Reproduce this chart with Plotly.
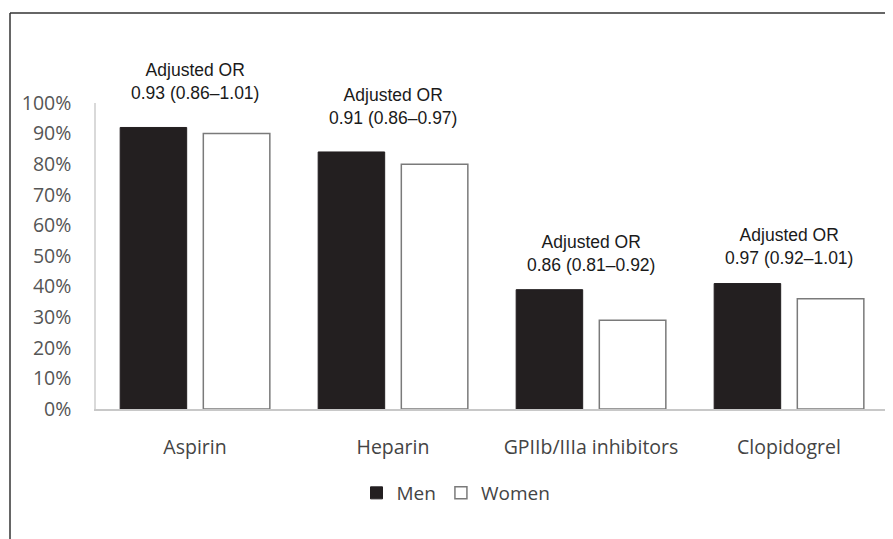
import plotly.graph_objects as go

categories = ["Aspirin", "Heparin", "GPIIb/IIIa inhibitors", "Clopidogrel"]
men = [92, 84, 39, 41]
women = [90, 80, 29, 36]
or_text = [
    "Adjusted OR<br>0.93 (0.86\u20131.01)",
    "Adjusted OR<br>0.91 (0.86\u20130.97)",
    "Adjusted OR<br>0.86 (0.81\u20130.92)",
    "Adjusted OR<br>0.97 (0.92\u20131.01)",
]
y_ticks = list(range(0, 101, 10))
y_tick_labels = [f"{v}%" for v in y_ticks]

# page body has an 8px margin; work in screen pixels and convert
OFF = 8
W, H = 893 - OFF, 539 - OFF
ML, MR, MT, MB = 96 - OFF, 5, 103 - OFF, 130
pw = W - ML - MR
ph = H - MT - MB

def px_x(p):
    return (p - OFF - ML) / pw

def px_y(p):
    return (H - MB - (p - OFF)) / ph

fig = go.Figure()
fig.add_trace(go.Bar(
    x=categories, y=men, name="Men",
    marker=dict(color="#231f20", line=dict(color="#231f20", width=1)),
))
fig.add_trace(go.Bar(
    x=categories, y=women, name="Women",
    marker=dict(color="#ffffff", line=dict(color="#7a7a7a", width=1.5)),
))

shifts = [22, 22, 13, 14]
for c, m, w, t, s in zip(categories, men, women, or_text, shifts):
    fig.add_annotation(
        x=c, y=max(m, w), text=t, showarrow=False,
        yanchor="bottom", yshift=s,
        font=dict(family="Liberation Sans, Arial", size=17.5, color="#1a1a1a"),
        align="center",
    )

# frame lines (left and top)
fig.add_shape(type="line", xref="paper", yref="paper",
              x0=px_x(10), x1=px_x(10), y0=px_y(13), y1=px_y(560),
              line=dict(color="#333333", width=1.5))
fig.add_shape(type="line", xref="paper", yref="paper",
              x0=px_x(10), x1=px_x(910), y0=px_y(13), y1=px_y(13),
              line=dict(color="#333333", width=1.5))

fig.update_layout(
    width=W, height=H,
    margin=dict(l=ML, r=MR, t=MT, b=MB),
    paper_bgcolor="white", plot_bgcolor="white",
    barmode="group", bargap=0.16, bargroupgap=0.2,
    showlegend=True,
    legend=dict(
        orientation="h", x=px_x(456), xanchor="center", y=px_y(493), yanchor="middle",
        font=dict(family="Open Sans", size=19, color="#444444"),
        itemwidth=30, traceorder="normal",
    ),
    font=dict(family="Open Sans", color="#555555"),
)
fig.update_xaxes(
    showline=True, linecolor="#c8c8c8", linewidth=1.5,
    showgrid=False, ticks="", ticklabelstandoff=20,
    tickfont=dict(family="Open Sans", size=19.5, color="#444444"),
)
fig.update_yaxes(
    range=[0, 100], tickvals=y_ticks, ticktext=y_tick_labels,
    showline=True, linecolor="#d9d9d9", linewidth=1.5,
    showgrid=False, zeroline=False, ticks="", ticklabelstandoff=19,
    tickfont=dict(family="Open Sans", size=19.5, color="#555555"),
)

fig.write_html("out.html")
